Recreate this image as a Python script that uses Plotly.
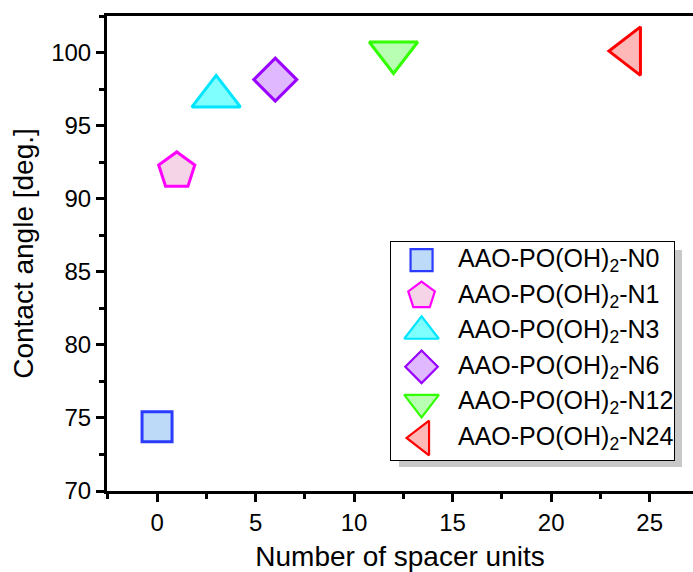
import plotly.graph_objects as go

# Contact angle of phosphonic-acid modified AAO versus spacer length
samples = ["AAO-PO(OH)<sub>2</sub>-N0", "AAO-PO(OH)<sub>2</sub>-N1", "AAO-PO(OH)<sub>2</sub>-N3",
           "AAO-PO(OH)<sub>2</sub>-N6", "AAO-PO(OH)<sub>2</sub>-N12", "AAO-PO(OH)<sub>2</sub>-N24"]
spacer_units = [0, 1, 3, 6, 12, 24]
contact_angle = [74.4, 91.9, 97.0, 98.15, 100.0, 100.1]

x_ticks = [0, 5, 10, 15, 20, 25]
y_ticks = [70, 75, 80, 85, 90, 95, 100]

symbols = ["square", "pentagon", "triangle-up", "diamond", "triangle-down", "triangle-left"]
edge_colors = ["#2b3cff", "#ff00ff", "#00e5ff", "#9900ff", "#33ff00", "#ff0000"]
fill_colors = ["#bddbf8", "#f6d4e8", "#80ffff", "#dfb8ff", "#b8ffb4", "#ffb8b8"]
plot_sizes = [30, 38, 42, 33, 42, 42]
key_sizes = [22, 28, 30, 25, 30, 30]

W, H = 693, 572
L, R, T, B = 107, 0, 16, 81
PW, PH = W - L - R, H - T - B


def px(x):
    return (x - L) / PW


def py(y):
    return (H - B - y) / PH


FONT = "Liberation Sans, Arial, sans-serif"

fig = go.Figure()

for name, xv, yv, sym, ec, fc, sz in zip(samples, spacer_units, contact_angle,
                                          symbols, edge_colors, fill_colors, plot_sizes):
    fig.add_trace(go.Scatter(
        x=[xv], y=[yv], mode="markers", name=name, showlegend=False,
        marker=dict(symbol=sym, size=sz, color=fc, line=dict(color=ec, width=3)),
        cliponaxis=False,
    ))

# Key box drawn on its own hidden axes: one row per sample
rows = list(range(len(samples)))
for name, r, sym, ec, fc, sz in zip(samples, rows, symbols, edge_colors, fill_colors, key_sizes):
    fig.add_trace(go.Scatter(
        x=[0.108], y=[r], mode="markers", showlegend=False, hoverinfo="skip",
        marker=dict(symbol=sym, size=sz, color=fc, line=dict(color=ec, width=2.2)),
        xaxis="x2", yaxis="y2", cliponaxis=False,
    ))
    fig.add_annotation(x=0.228, y=r, xref="x2", yref="y2", text=name, showarrow=False,
                       xanchor="left", yanchor="middle",
                       font=dict(family=FONT, size=25, color="black"))

box_l, box_r, box_t, box_b = 391, 674, 242, 460
fig.add_shape(type="rect", xref="paper", yref="paper",
              x0=px(box_l + 8), x1=px(box_r + 8), y0=py(box_b + 7), y1=py(box_t + 8),
              fillcolor="#c8c8c8", line=dict(width=0), layer="below")
fig.add_shape(type="rect", xref="paper", yref="paper",
              x0=px(box_l), x1=px(box_r), y0=py(box_b), y1=py(box_t),
              fillcolor="white", line=dict(color="black", width=2), layer="below")

axis_common = dict(
    showline=True, linecolor="black", linewidth=3,
    ticks="outside", ticklen=8, tickwidth=2.5, tickcolor="black",
    showgrid=False, zeroline=False,
    tickfont=dict(family=FONT, size=24, color="black"),
    minor=dict(ticks="outside", ticklen=5, tickwidth=2.5, tickcolor="black", dtick=2.5, showgrid=False),
)

fig.update_layout(
    width=W, height=H,
    margin=dict(l=L, r=R, t=T, b=B),
    paper_bgcolor="white", plot_bgcolor="white",
    font=dict(family=FONT, color="black"),
    xaxis=dict(range=[-2.54, 27.2], tickvals=x_ticks, mirror=True, domain=[0, 1],
               title=dict(text="Number of spacer units", font=dict(family=FONT, size=28), standoff=18),
               **axis_common),
    yaxis=dict(range=[70, 102.5], tickvals=y_ticks, mirror=False, domain=[0, 1],
               title=dict(text="Contact angle [deg.]", font=dict(family=FONT, size=28), standoff=10),
               **axis_common),
    xaxis2=dict(domain=[px(box_l), px(box_r)], range=[0, 1], visible=False,
                anchor="y2", showgrid=False, zeroline=False),
    yaxis2=dict(domain=[py(box_b), py(box_t)], range=[5.62, -0.51], visible=False,
                anchor="x2", showgrid=False, zeroline=False),
)

fig.write_html("out.html")
